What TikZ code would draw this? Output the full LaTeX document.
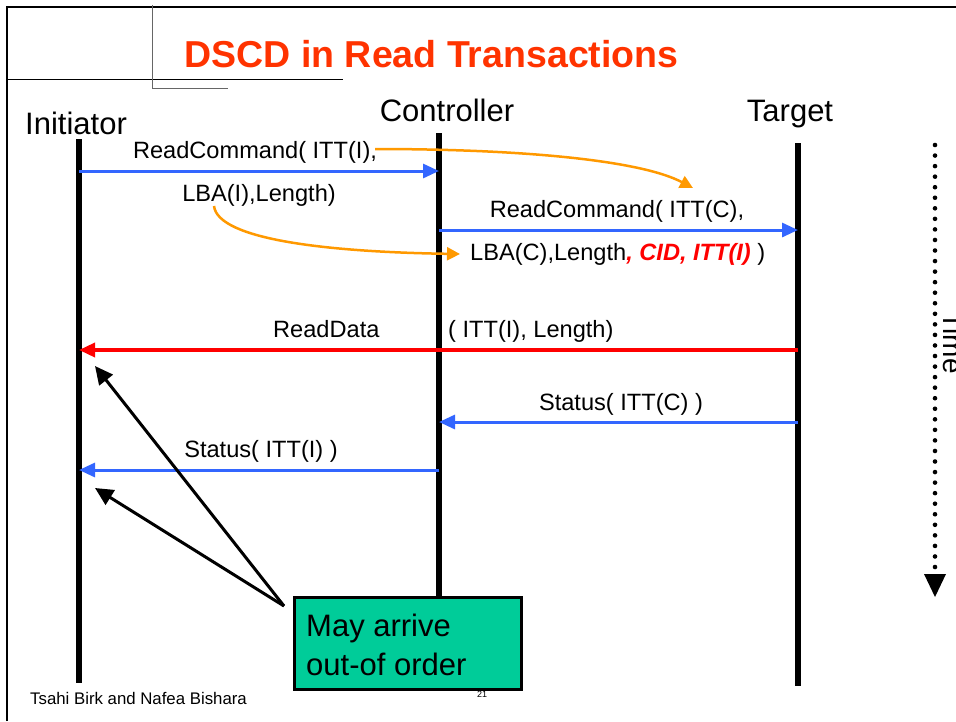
\documentclass[tikz,border=0pt]{standalone}
\usepackage{fontspec}
\setmainfont{Liberation Sans}
\usetikzlibrary{arrows.meta}
\definecolor{msgblue}{HTML}{3366FF}
\definecolor{msgred}{HTML}{FF0000}
\definecolor{noteorange}{HTML}{FF9900}
\definecolor{titlered}{HTML}{FF3300}
\definecolor{notegreen}{HTML}{00CC99}
\definecolor{rulegray}{HTML}{666666}
\newcommand{\fieldmark}[1]{\textcolor{msgred}{\bfseries\itshape #1}}
\begin{document}
\begin{tikzpicture}[x=1pt,y=-1pt,
  lifeline/.style={line width=6pt},
  msgtip/.style={-{Triangle[length=16pt,width=14pt]}},
  bluemsg/.style={msgtip,line width=3pt,draw=msgblue},
  redmsg/.style={msgtip,line width=3.5pt,draw=msgred},
  fieldlink/.style={line width=2.5pt,draw=noteorange,-{Triangle[length=13pt,width=13pt]}},
  pointer/.style={line width=3pt,-{Triangle[length=18pt,width=17pt]}},
  msglabel/.style={font=\fontsize{23.6}{28}\selectfont,inner sep=0pt},
  actor/.style={font=\fontsize{31}{36}\selectfont,inner sep=0pt},
  notefont/.style={anchor=base west,inner sep=0pt,font=\fontsize{31}{39}\selectfont}]
\useasboundingbox (0,0) rectangle (956,721);
\fill[white] (0,0) rectangle (956,721);

% slide frame and title rules
\draw[line width=2.5pt] (7,721) -- (7,7) -- (956,7);
\draw[line width=1pt] (7,79) -- (343,79);
\draw[line width=1pt,rulegray] (152,5) -- (152,88) -- (228,88);

\node[anchor=base,inner sep=0pt,text=titlered,font=\bfseries\fontsize{37.5}{44}\selectfont]
  (title) at (431.5,67) {DSCD in Read Transactions};

% actors
\node[actor,anchor=base west] (init) at (25,134) {Initiator};
\node[actor,anchor=base] (ctrl) at (447,121) {Controller};
\node[actor,anchor=base] (targ) at (790,121) {Target};

% lifelines
\coordinate (iTop) at (79,139);  \coordinate (iBot) at (79,683);
\coordinate (cTop) at (439,133); \coordinate (cBot) at (439,600);
\coordinate (tTop) at (798,143); \coordinate (tBot) at (798,686);
\draw[lifeline] (iTop) -- (iBot);
\draw[lifeline] (cTop) -- (cBot);
\draw[lifeline] (tTop) -- (tBot);

% message end points on the lifelines
\coordinate (i1) at (79,171);  \coordinate (c1) at (439,171);
\coordinate (c2) at (439,230); \coordinate (t2) at (798,230);
\coordinate (t3) at (798,350); \coordinate (i3) at (79,350);
\coordinate (t4) at (798,422); \coordinate (c4) at (439,422);
\coordinate (c5) at (439,470); \coordinate (i5) at (79,470);

% messages
\draw[bluemsg] (i1) -- (c1);
\draw[bluemsg] (c2) -- (t2);
\draw[redmsg] (t3) -- (i3);
\draw[bluemsg] (t4) -- (c4);
\draw[bluemsg] (c5) -- (i5);

% message labels
\node[msglabel,anchor=base] (m1a) at (255,158) {ReadCommand( ITT(I),};
\node[msglabel,anchor=base] (m1b) at (259,201) {LBA(I),Length)};
\node[msglabel,anchor=base] (m2a) at (617,217) {ReadCommand( ITT(C),};
\node[msglabel,anchor=base west] (m2b) at (470,260)
  {LBA(C),Length\fieldmark{, CID, ITT(I)} )};
\node[msglabel,anchor=base west] (m3a) at (273,337) {ReadData};
\node[msglabel,anchor=base west] (m3b) at (448,337) {( ITT(I), Length)};
\node[msglabel,anchor=base] (m4) at (621,410) {Status( ITT(C) )};
\node[msglabel,anchor=base] (m5) at (261,457) {Status( ITT(I) )};

% fields carried over from the initiator's command
\coordinate (f1s) at (375,149); \coordinate (f1e) at (693,188);
\coordinate (f2s) at (214,206); \coordinate (f2e) at (460,254);
\draw[fieldlink] (f1s) .. controls (520,149) and (640,160) .. (f1e);
\draw[fieldlink] (f2s) .. controls (218,240) and (330,252) .. (f2e);

% note box with pointers
\coordinate (pfrom) at (284,606);
\coordinate (p1) at (95,366);
\coordinate (p2) at (95,488);
\draw[pointer] (pfrom) -- (p1);
\draw[pointer] (pfrom) -- (p2);
\node[draw,line width=3pt,fill=notegreen,anchor=north west,minimum width=227pt,
  minimum height=92pt,inner sep=0pt] (note) at (293,596) {};
\node[notefont] (note1) at (306,636) {May arrive};
\node[notefont] (note2) at (306,675) {out-of order};

% time axis
\foreach \k in {0,...,40} \fill (935,145+\k*10.55) circle (2.3pt);
\fill (924,574) -- (946,574) -- (935,597) -- cycle;
\node[rotate=-90,inner sep=0pt,font=\fontsize{28}{32}\selectfont] (time) at (953,343) {Time};

% footer
\node[anchor=base west,inner sep=0pt,font=\fontsize{16.8}{20}\selectfont] (foot) at (30,704)
  {Tsahi Birk and Nafea Bishara};
\node[anchor=base,inner sep=0pt,font=\fontsize{9}{11}\selectfont] (page) at (482,697) {21};
\end{tikzpicture}
\end{document}
